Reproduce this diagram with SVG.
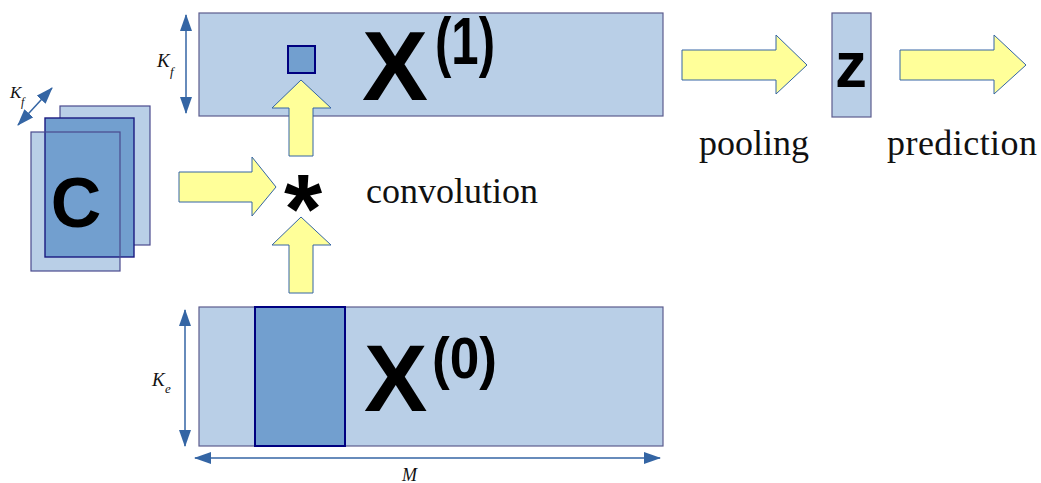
<svg xmlns="http://www.w3.org/2000/svg" width="1041" height="483" viewBox="0 0 1041 483">
<style>
.mat{fill:#b9cfe7;stroke:#5c5c8e;stroke-width:1.2}
.win{fill:#729fcf;stroke:#000080;stroke-width:2}
.yarrow{fill:#ffff99;stroke:#3465a4;stroke-width:1}
.dim{fill:none;stroke:#3465a4;stroke-width:1.5}
.big{font-family:"Liberation Sans",Arial,sans-serif;font-weight:bold;fill:#000}
.lbl{font-family:"Liberation Serif","DejaVu Serif",serif;font-size:36px;fill:#111}
.it{font-family:"Liberation Serif","DejaVu Serif",serif;font-style:italic;fill:#111}
</style>
<defs>
<marker id="ah" viewBox="0 0 17 12" refX="16" refY="6" markerWidth="17" markerHeight="12" markerUnits="userSpaceOnUse" orient="auto-start-reverse">
<path d="M0,0 L17,6 L0,12 Z" fill="#3465a4"/>
</marker>
</defs>
<rect width="1041" height="483" fill="#fff"/>

<g id="filters-C">
<rect x="60" y="106" width="90" height="139" fill="#b9cfe7" stroke="#4a4a8e" stroke-width="1.2"/>
<rect x="31" y="132" width="89" height="139" fill="#b9cfe7" stroke="none"/>
<rect x="45" y="118" width="89" height="139" fill="#729fcf" stroke="#1a1a80" stroke-width="1.4"/>
<rect x="31" y="132" width="89" height="139" fill="none" stroke="#4a4a8e" stroke-width="1.2"/>
<text class="big" x="76" y="227" font-size="70" text-anchor="middle">C</text>
<text class="it" x="10" y="98" font-size="17">K</text>
<text class="it" x="21" y="106" font-size="12">f</text>
</g>

<g id="X1">
<rect class="mat" x="199" y="13" width="464" height="103"/>
<rect class="win" x="288" y="46" width="27" height="27"/>
<text class="big" x="362" y="100" font-size="99">X</text>
<text class="big" x="435" y="64" font-size="66" textLength="60" lengthAdjust="spacingAndGlyphs">(1)</text>
</g>

<g id="X0">
<rect class="mat" x="199" y="307" width="464" height="139"/>
<rect class="win" x="255" y="307" width="90" height="139"/>
<text class="big" x="364" y="411" font-size="95">X</text>
<text class="big" x="432" y="378" font-size="57" textLength="65" lengthAdjust="spacingAndGlyphs">(0)</text>
</g>

<g id="conv-op">
<text class="big" x="303" y="243" font-size="98" text-anchor="middle">*</text>
<text class="lbl" x="366" y="203">convolution</text>
</g>

<g id="z">
<rect class="mat" x="832" y="13" width="39" height="104"/>
<text class="big" x="851" y="87" font-size="64" text-anchor="middle">z</text>
</g>

<g id="labels">
<text class="lbl" x="699" y="155">pooling</text>
<text class="lbl" x="887" y="155" textLength="150" lengthAdjust="spacing">prediction</text>
<text class="it" x="157" y="67" font-size="19">K</text>
<text class="it" x="170" y="76" font-size="13">f</text>
<text class="it" x="152" y="386" font-size="19">K</text>
<text class="it" x="165" y="393" font-size="13">e</text>
<text class="it" x="402" y="481" font-size="18">M</text>
</g>

<g id="connectors">
<polygon class="yarrow" points="179,172 252,172 252,157 276,187 252,216 252,202 179,202"/>
<polygon class="yarrow" points="289,156 289,108 272,108 301,80 331,108 313,108 313,156"/>
<polygon class="yarrow" points="289,293 289,245 272,245 301,217 331,245 313,245 313,293"/>
<polygon class="yarrow" points="682,50 776,50 776,35 807,65 776,94 776,80 682,80"/>
<polygon class="yarrow" points="900,50 994,50 994,35 1026,65 994,94 994,80 900,80"/>
<line class="dim" x1="186" y1="15" x2="186" y2="113" marker-start="url(#ah)" marker-end="url(#ah)"/>
<line class="dim" x1="185" y1="310" x2="185" y2="446" marker-start="url(#ah)" marker-end="url(#ah)"/>
<line class="dim" x1="195" y1="458" x2="660" y2="458" marker-start="url(#ah)" marker-end="url(#ah)"/>
<line class="dim" x1="18" y1="125" x2="52" y2="88" marker-start="url(#ah)" marker-end="url(#ah)"/>
</g>
</svg>
